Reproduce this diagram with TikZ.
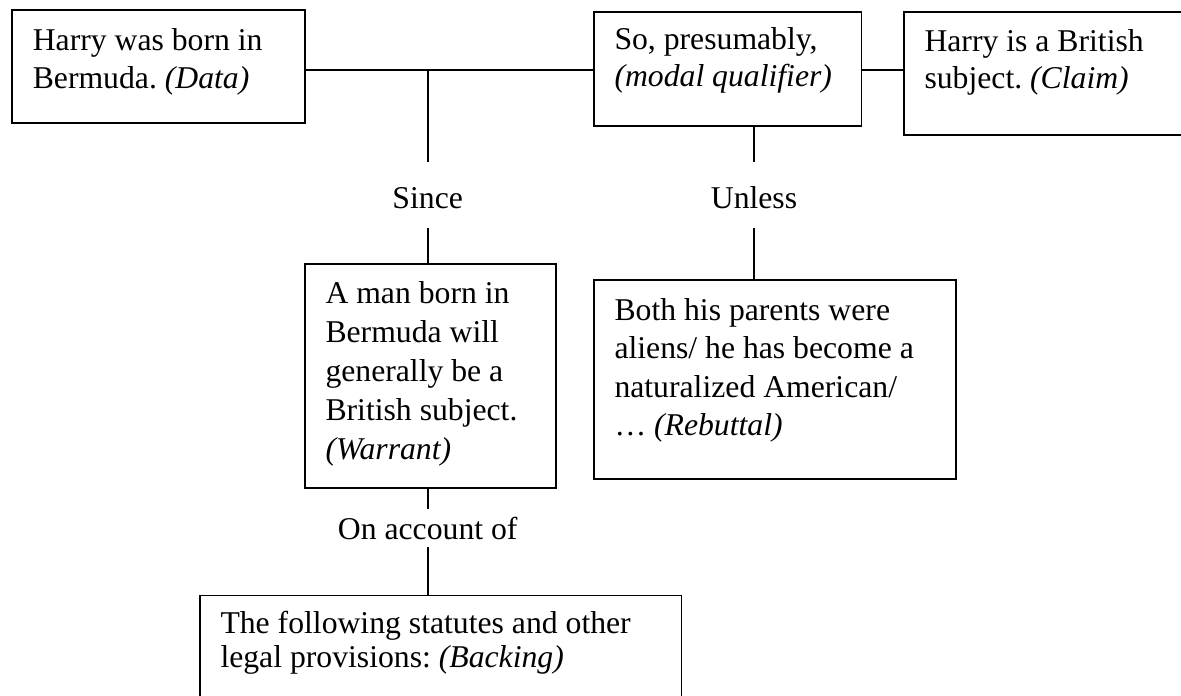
\documentclass[tikz,border=0pt]{standalone}
\usepackage{fontspec}
\setmainfont{Liberation Serif}
\usetikzlibrary{fit}
\frenchspacing

\begin{document}
\begin{tikzpicture}[x=0.5pt, y=-0.5pt,
  frame/.style={draw, line width=0.9pt, inner sep=0pt},
  wire/.style={line width=0.85pt},
  body/.style={inner sep=0pt, anchor=base west,
    font=\fontsize{15.85pt}{#1}\selectfont},
  body/.default=18.75pt,
  linkword/.style={inner xsep=0pt, inner ysep=0pt, anchor=base,
    font=\fontsize{15.85pt}{18pt}\selectfont}
]
\useasboundingbox (0,0) rectangle (1181,695);

% boxes of the argument layout
\node[frame, fit={(12.3,10) (305,123.3)}]      (data)     {};
\node[frame, fit={(594,11.7) (861.5,125.7)}]   (qual)     {};
\node[frame, fit={(904,12.3) (1190,135)}]      (claim)    {};
\node[frame, fit={(305,264.3) (555.7,487.7)}]  (warrant)  {};
\node[frame, fit={(594,280) (955.7,479.3)}]    (rebuttal) {};
\node[frame, fit={(200,595.5) (681.5,712)}]    (backing)  {};

% box texts
\node[body] (dataText) at ([shift={(21,41.7)}]data.north west)
  {\parbox[t]{300pt}{\raggedright Harry was born in\\ Bermuda. \textit{(Data)}}};
\node[body] (qualText) at ([shift={(21,38.5)}]qual.north west)
  {\parbox[t]{300pt}{\raggedright So, presumably,\\ \textit{(modal qualifier)}}};
\node[body] (claimText) at ([shift={(21,40)}]claim.north west)
  {\parbox[t]{300pt}{\raggedright Harry is a British\\ subject. \textit{(Claim)}}};
\node[body=19.5pt] (warrantText) at ([shift={(21,39.7)}]warrant.north west)
  {\parbox[t]{300pt}{\raggedright A man born in\\ Bermuda will\\ generally be a\\ British subject.\\ \textit{(Warrant)}}};
\node[body=19.25pt] (rebuttalText) at ([shift={(21,41)}]rebuttal.north west)
  {\parbox[t]{300pt}{\raggedright Both his parents were\\ aliens/ he has become a\\ naturalized American/\\ … \textit{(Rebuttal)}}};
\node[body=16.75pt] (backingText) at ([shift={(21,39)}]backing.north west)
  {\parbox[t]{300pt}{\raggedright The following statutes and other\\ legal provisions: \textit{(Backing)}}};

% link words
\node[linkword, text height=22.8pt, text depth=9.5pt] (since)  at (427.7,208.3) {Since};
\node[linkword, text height=22.8pt, text depth=9.5pt] (unless) at (754,208.3)   {Unless};
\node[linkword, text height=15pt, text depth=3.7pt]   (account) at (427.7,539.5) {On account of};

% connectors
\coordinate (row) at (0,70);
\coordinate (fork) at (since |- row);
\draw[wire] (row -| data.east) -- (row -| qual.west);
\draw[wire] (row -| qual.east) -- (row -| claim.west);
\draw[wire] (fork) -- (since.north);
\draw[wire] (since.south) -- (since.south |- warrant.north);
\draw[wire] (unless.north |- qual.south) -- (unless.north);
\draw[wire] (unless.south) -- (unless.south |- rebuttal.north);
\draw[wire] (account.north |- warrant.south) -- (account.north);
\draw[wire] (account.south) -- (account.south |- backing.north);
\end{tikzpicture}
\end{document}
